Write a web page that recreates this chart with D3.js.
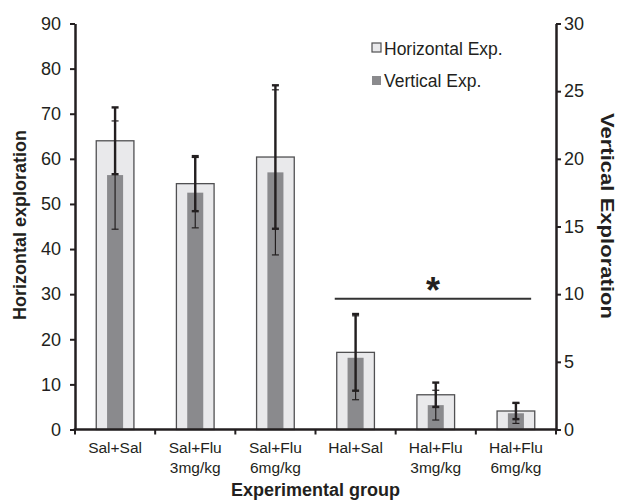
<!DOCTYPE html>
<html>
<head>
<meta charset="utf-8">
<script src="https://cdn.jsdelivr.net/npm/d3@7"></script>
<style>
  body { margin: 0; background: #fff; }
  svg { display: block; font-family: Arial, "Liberation Sans", sans-serif; }
</style>
</head>
<body>
<div id="chart"></div>
<script>
// group labels (one entry per line)
var groupLabels = [
  ['Sal+Sal'],
  ['Sal+Flu', '3mg/kg'],
  ['Sal+Flu', '6mg/kg'],
  ['Hal+Sal'],
  ['Hal+Flu', '3mg/kg'],
  ['Hal+Flu', '6mg/kg']
]
var groups = groupLabels.map(function(d) { return d.join(' ') })

// horizontal exploration (left axis)
var horizontal = [64, 54.5, 60.4, 17.1, 7.7, 4.1]
var horizontalErr = [7.4, 6.1, 15.9, 8.5, 2.7, 1.8]
// vertical exploration (right axis)
var vertical = [18.8, 17.5, 19.0, 5.3, 1.8, 1.2]
var verticalErr = [4.0, 2.6, 6.1, 3.1, 1.1, 0.75]

var leftTicks = [0, 10, 20, 30, 40, 50, 60, 70, 80, 90]
var rightTicks = [0, 5, 10, 15, 20, 25, 30]
var legendLabels = ['Horizontal Exp.', 'Vertical Exp.']

const width = 618
const height = 500
const plotLeft = 75
const plotRight = 556
const plotTop = 23.5
const plotBottom = 429.5
const axisColor = '#231f20'
const lightFill = '#e9e9eb'
const darkFill = '#8a8a8d'

var svg = d3.select('#chart')
  .append('svg')
  .attr('width', width)
  .attr('height', height)

var x = d3.scaleBand()
  .domain(groups)
  .range([plotLeft, plotRight])
  .paddingInner(0)
  .paddingOuter(0)

var yLeft = d3.scaleLinear().domain([0, 90]).range([plotBottom, plotTop])
var yRight = d3.scaleLinear().domain([0, 30]).range([plotBottom, plotTop])

var bw = x.bandwidth()

// light bars
svg.append('g')
  .selectAll('rect')
  .data(horizontal)
  .enter()
  .append('rect')
  .attr('x', function(d, i) { return x(groups[i]) + bw / 2 - bw * 0.235 })
  .attr('width', bw * 0.47)
  .attr('y', function(d) { return yLeft(d) })
  .attr('height', function(d) { return plotBottom - yLeft(d) })
  .attr('fill', lightFill)
  .attr('stroke', '#505052')
  .attr('stroke-width', 1.3)

// dark bars
svg.append('g')
  .selectAll('rect')
  .data(vertical)
  .enter()
  .append('rect')
  .attr('x', function(d, i) { return x(groups[i]) + bw / 2 - bw * 0.1 })
  .attr('width', bw * 0.2)
  .attr('y', function(d) { return yRight(d) })
  .attr('height', function(d) { return plotBottom - yRight(d) })
  .attr('fill', darkFill)

function drawErrors(values, errs, scale, strokeWidth) {
  var g = svg.append('g')
    .attr('stroke', axisColor)
    .attr('stroke-width', strokeWidth)
  values.forEach(function(v, i) {
    var cx = x(groups[i]) + bw / 2
    var top = scale(v + errs[i])
    var bottom = scale(v - errs[i])
    g.append('line')
      .attr('x1', cx).attr('x2', cx)
      .attr('y1', top).attr('y2', bottom)
    g.append('line')
      .attr('x1', cx - 3.5).attr('x2', cx + 3.5)
      .attr('y1', top).attr('y2', top)
    g.append('line')
      .attr('x1', cx - 3.5).attr('x2', cx + 3.5)
      .attr('y1', bottom).attr('y2', bottom)
  })
}

drawErrors(vertical, verticalErr, yRight, 1.2)
drawErrors(horizontal, horizontalErr, yLeft, 2.4)

// left axis
var leftAxis = svg.append('g')
  .attr('transform', 'translate(' + plotLeft + ',0)')
  .call(d3.axisLeft(yLeft).tickValues(leftTicks).tickSize(5).tickSizeOuter(0).tickPadding(9))
leftAxis.select('.domain').attr('stroke', axisColor).attr('stroke-width', 2.5)
leftAxis.selectAll('.tick line').attr('stroke', axisColor).attr('stroke-width', 2)
leftAxis.selectAll('.tick text')
  .attr('font-size', 18)
  .attr('font-family', 'Arial, "Liberation Sans", sans-serif')
  .attr('fill', '#231f20')

// right axis
var rightAxis = svg.append('g')
  .attr('transform', 'translate(' + plotRight + ',0)')
  .call(d3.axisRight(yRight).tickValues(rightTicks).tickSize(5).tickSizeOuter(0).tickPadding(3))
rightAxis.select('.domain').attr('stroke', axisColor).attr('stroke-width', 2.5)
rightAxis.selectAll('.tick line').attr('stroke', axisColor).attr('stroke-width', 2)
rightAxis.selectAll('.tick text')
  .attr('font-size', 18)
  .attr('font-family', 'Arial, "Liberation Sans", sans-serif')
  .attr('fill', '#231f20')

// x axis line and boundary ticks
svg.append('line')
  .attr('x1', plotLeft - 1.25)
  .attr('x2', plotRight + 1.25)
  .attr('y1', plotBottom)
  .attr('y2', plotBottom)
  .attr('stroke', axisColor)
  .attr('stroke-width', 2.5)

var boundaries = groups.map(function(g) { return x(g) }).concat([plotRight])
svg.append('g')
  .selectAll('line')
  .data(boundaries)
  .enter()
  .append('line')
  .attr('x1', function(d) { return d })
  .attr('x2', function(d) { return d })
  .attr('y1', plotBottom)
  .attr('y2', plotBottom + 5)
  .attr('stroke', axisColor)
  .attr('stroke-width', 2)

var xLabels = svg.append('g')
  .selectAll('text')
  .data(groupLabels)
  .enter()
  .append('text')
  .attr('text-anchor', 'middle')
  .attr('font-size', 15.5)
  .attr('fill', '#231f20')
xLabels.selectAll('tspan')
  .data(function(d, i) { return d.map(function(line) { return { line: line, i: i } }) })
  .enter()
  .append('tspan')
  .attr('x', function(d) { return x(groups[d.i]) + bw / 2 })
  .attr('y', function(d, j) { return 453 + j * 20 })
  .text(function(d) { return d.line })

// significance line
svg.append('line')
  .attr('x1', x(groups[3]) + bw * 0.24)
  .attr('x2', x(groups[5]) + bw * 0.69)
  .attr('y1', yLeft(29))
  .attr('y2', yLeft(29))
  .attr('stroke', '#333')
  .attr('stroke-width', 2)
svg.append('text')
  .attr('x', (x(groups[3]) + bw * 0.24 + x(groups[5]) + bw * 0.69) / 2)
  .attr('y', yLeft(29) + 4)
  .attr('text-anchor', 'middle')
  .attr('font-size', 36)
  .attr('font-weight', 'bold')
  .attr('fill', axisColor)
  .text('*')

// axis titles
svg.append('text')
  .attr('transform', 'translate(26,225) rotate(-90)')
  .attr('text-anchor', 'middle')
  .attr('font-size', 18)
  .attr('font-weight', 'bold')
  .attr('fill', axisColor)
  .text('Horizontal exploration')

svg.append('text')
  .attr('transform', 'translate(601,216) rotate(90)')
  .attr('text-anchor', 'middle')
  .attr('font-size', 18)
  .attr('font-weight', 'bold')
  .attr('textLength', 206)
  .attr('lengthAdjust', 'spacingAndGlyphs')
  .attr('fill', axisColor)
  .text('Vertical Exploration')

svg.append('text')
  .attr('x', (plotLeft + plotRight) / 2)
  .attr('y', 496)
  .attr('text-anchor', 'middle')
  .attr('font-size', 18)
  .attr('font-weight', 'bold')
  .attr('fill', axisColor)
  .text('Experimental group')

// legend
var legend = svg.append('g').attr('transform', 'translate(372,43)')
legend.append('rect')
  .attr('x', 0).attr('y', 0).attr('width', 9).attr('height', 9)
  .attr('fill', lightFill).attr('stroke', '#505052').attr('stroke-width', 1.2)
legend.append('rect')
  .attr('x', 0).attr('y', 33).attr('width', 9).attr('height', 9)
  .attr('fill', darkFill)
legend.selectAll('text')
  .data(legendLabels)
  .enter()
  .append('text')
  .attr('x', 12)
  .attr('y', function(d, i) { return 12 + i * 32 })
  .attr('font-size', 17.5)
  .attr('fill', '#231f20')
  .text(function(d) { return d })
</script>
</body>
</html>
